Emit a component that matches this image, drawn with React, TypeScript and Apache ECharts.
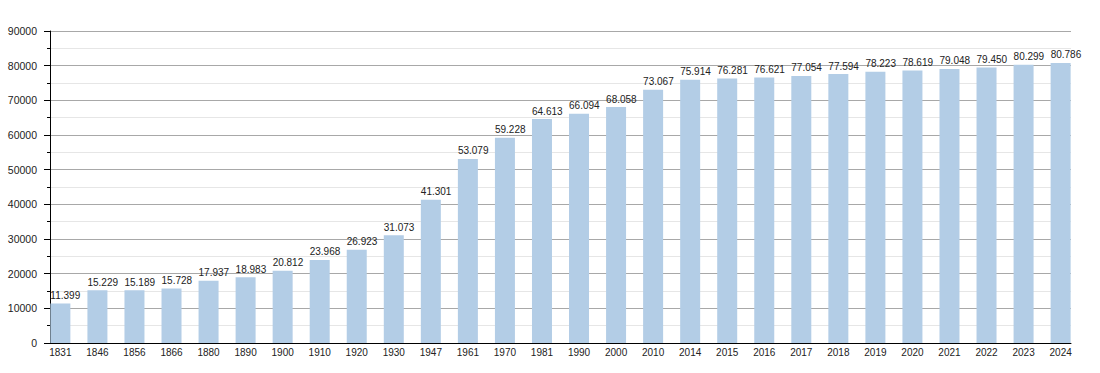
import React, { useEffect, useRef } from "react";
import * as echarts from "echarts";

const years = [
  "1831", "1846", "1856", "1866", "1880", "1890", "1900", "1910", "1920", "1930",
  "1947", "1961", "1970", "1981", "1990", "2000", "2010", "2014", "2015", "2016",
  "2017", "2018", "2019", "2020", "2021", "2022", "2023", "2024",
];

const population = [
  11399, 15229, 15189, 15728, 17937, 18983, 20812, 23968, 26923, 31073,
  41301, 53079, 59228, 64613, 66094, 68058, 73067, 75914, 76281, 76621,
  77054, 77594, 78223, 78619, 79048, 79450, 80299, 80786,
];

const yTicks = [0, 10000, 20000, 30000, 40000, 50000, 60000, 70000, 80000, 90000];

function fmt(v: number): string {
  const s = String(Math.round(v));
  return s.replace(/\B(?=(\d{3})+(?!\d))/g, ".");
}

export default function App() {
  const ref = useRef<HTMLDivElement>(null);
  useEffect(() => {
    document.body.style.margin = "0";
    if (!ref.current) return;
    const chart = echarts.init(ref.current, undefined, { renderer: "svg" });
    const font = "'Liberation Sans', Arial, sans-serif";
    chart.setOption({
      animation: false,
      backgroundColor: "#ffffff",
      grid: { left: 50, right: 29, top: 31, bottom: 30, containLabel: false },
      xAxis: {
        type: "value",
        min: -0.28,
        max: 27.28,
        axisLine: { show: true, onZero: false, lineStyle: { color: "#000", width: 1 } },
        axisTick: { show: false },
        splitLine: { show: false },
        axisLabel: {
          customValues: years.map((_, i) => i),
          formatter: (v: number) => years[Math.round(v)] ?? "",
          color: "#222",
          fontSize: 10,
          fontFamily: font,
          margin: 4,
          showMinLabel: true,
          showMaxLabel: true,
        },
      },
      yAxis: {
        type: "value",
        min: yTicks[0],
        max: yTicks[yTicks.length - 1],
        interval: 10000,
        axisLine: { show: true, onZero: false, lineStyle: { color: "#000", width: 1 } },
        axisTick: { show: true, length: 6, lineStyle: { color: "#000" } },
        minorTick: { show: true, splitNumber: 2, length: 3, lineStyle: { color: "#000" } },
        splitLine: { show: true, lineStyle: { color: "#a8a8a8", width: 1 } },
        minorSplitLine: { show: true, lineStyle: { color: "#e6e6e6", width: 1 } },
        axisLabel: {
          color: "#222",
          fontSize: 10.5,
          fontFamily: font,
          margin: 13,
          formatter: (v: number) => String(v),
        },
      },
      series: [
        {
          type: "bar",
          data: population.map((v, i) => [i, v]),
          barWidth: 20,
          itemStyle: { color: "#b3cde6" },
          z: 2,
          label: {
            show: true,
            position: [0, -3],
            align: "left",
            verticalAlign: "bottom",
            color: "#222",
            fontSize: 10,
            fontFamily: font,
            formatter: (p: any) => fmt(p.value[1]),
          },
        },
      ],
    });
    return () => chart.dispose();
  }, []);
  return <div ref={ref} style={{ width: 1100, height: 373 }} />;
}
